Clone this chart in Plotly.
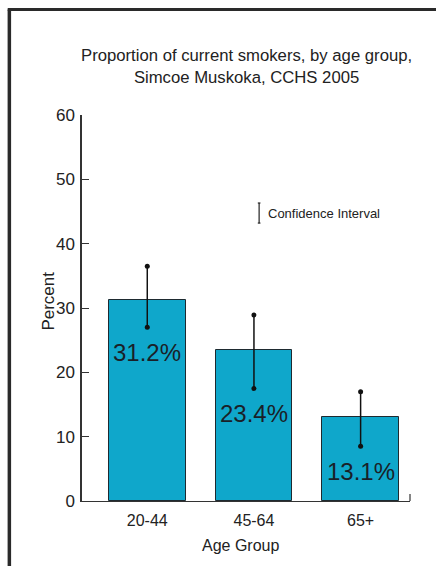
import plotly.graph_objects as go

categories = ["20-44", "45-64", "65+"]
percent = [31.2, 23.4, 13.1]
ci_low = [27.0, 17.5, 8.5]
ci_high = [36.5, 28.9, 17.0]
y_ticks = [0, 10, 20, 30, 40, 50, 60]

FONT = "Liberation Sans, Arial, Helvetica, sans-serif"
TXT = "#222222"
BAR = "#0fa7cb"

xpos = list(range(len(categories)))

fig = go.Figure()
fig.add_trace(go.Bar(
    x=xpos, y=percent, width=0.72,
    marker=dict(color=BAR, line=dict(color="#1e2a30", width=1)),
    hoverinfo="skip", showlegend=False,
))

ex, ey = [], []
for i, (lo, hi) in enumerate(zip(ci_low, ci_high)):
    ex += [i, i, None]
    ey += [lo, hi, None]
fig.add_trace(go.Scatter(
    x=ex, y=ey, mode="lines+markers",
    line=dict(color="#111111", width=1.5),
    marker=dict(color="#111111", size=5, symbol="circle"),
    hoverinfo="skip", showlegend=False,
))

for i, (v, lo) in enumerate(zip(percent, ci_low)):
    fig.add_annotation(x=i, y=lo, xref="x", yref="y", text=f"{v:.1f}%",
                       showarrow=False, yanchor="middle", yshift=-25.5,
                       font=dict(family=FONT, size=24, color="#1a1f28"))

# title
fig.add_annotation(x=0.5, y=1.1256, xref="paper", yref="paper",
                   text="Proportion of current smokers, by age group,<br>Simcoe Muskoka, CCHS 2005",
                   showarrow=False, xanchor="center", yanchor="middle",
                   font=dict(family=FONT, size=16.7, color=TXT))
# axis titles
fig.add_annotation(x=-0.102, y=0.518, xref="paper", yref="paper", text="Percent",
                   textangle=-90, showarrow=False, xanchor="center", yanchor="middle",
                   font=dict(family=FONT, size=17, color=TXT))
fig.add_annotation(x=0.482, y=-0.114, xref="paper", yref="paper", text="Age Group",
                   showarrow=False, xanchor="center", yanchor="middle",
                   font=dict(family=FONT, size=16, color=TXT))
# legend
fig.add_annotation(x=0.561, y=0.746, xref="paper", yref="paper", text="Confidence Interval",
                   showarrow=False, xanchor="left", yanchor="middle",
                   font=dict(family=FONT, size=13, color=TXT))
shapes = [
    dict(type="line", xref="paper", yref="paper", x0=0.54, x1=0.54, y0=0.720, y1=0.772,
         line=dict(color="#222", width=1.2)),
    dict(type="line", xref="paper", yref="paper", x0=0.536, x1=0.544, y0=0.772, y1=0.772,
         line=dict(color="#222", width=1.2)),
    dict(type="line", xref="paper", yref="paper", x0=0.536, x1=0.544, y0=0.720, y1=0.720,
         line=dict(color="#222", width=1.2)),
    # x-axis end tick
    dict(type="line", xref="paper", yref="paper", x0=1, x1=1, y0=0, y1=0.018,
         line=dict(color="#333", width=1.2)),
    # outer frame
    dict(type="line", xref="paper", yref="paper", x0=-0.2215, x1=-0.2215, y0=-0.4, y1=1.2735,
         line=dict(color="#2a2a2a", width=3.5)),
    dict(type="line", xref="paper", yref="paper", x0=-0.2265, x1=1.3, y0=1.2735, y1=1.2735,
         line=dict(color="#2a2a2a", width=3)),
]

fig.update_layout(
    width=436, height=566,
    margin=dict(l=82, r=26, t=115, b=65),
    paper_bgcolor="white", plot_bgcolor="white",
    font=dict(family=FONT, color=TXT),
    shapes=shapes,
    bargap=0,
)
fig.update_xaxes(
    range=[-0.612, 2.463], tickmode="array", tickvals=xpos, ticktext=categories,
    showgrid=False, zeroline=False, showline=True, linecolor="#333", linewidth=1.2,
    ticks="", tickfont=dict(family=FONT, size=16, color=TXT), ticklabelstandoff=5,
)
fig.update_yaxes(
    range=[0, 60], tickmode="array", tickvals=y_ticks,
    showgrid=False, zeroline=False, showline=True, linecolor="#333", linewidth=1.5,
    ticks="inside", ticklen=7, tickcolor="#333", tickwidth=1.2,
    tickfont=dict(family=FONT, size=17, color=TXT), ticklabelstandoff=2,
)

fig.write_html("out.html")
